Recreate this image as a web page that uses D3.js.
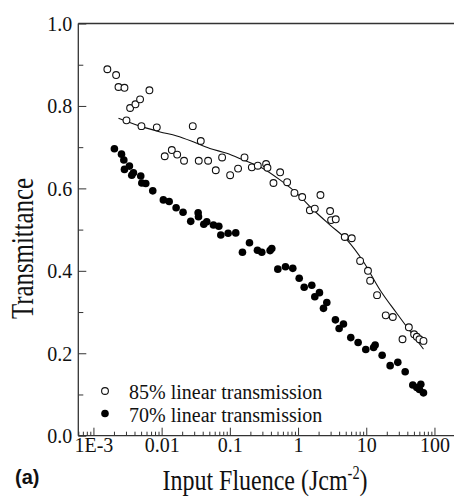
<!DOCTYPE html>
<html>
<head>
<meta charset="utf-8">
<script src="https://cdn.jsdelivr.net/npm/d3@7"></script>
<style>
  body { margin: 0; background: #fff; }
  svg { display: block; }
  text { font-family: "Liberation Serif", "Times New Roman", serif; fill: #111; }
</style>
</head>
<body>
<div id="chart"></div>
<script>
// données
const fluence85 = [0.0016, 0.00215, 0.00233, 0.00285, 0.00345, 0.00413, 0.00483, 0.00305, 0.00506, 0.00662,
  0.00849, 0.0111, 0.0141, 0.0169, 0.0213, 0.0286, 0.035, 0.0375, 0.048, 0.0622,
  0.077, 0.101, 0.132, 0.164, 0.21, 0.257, 0.34, 0.356, 0.436, 0.546,
  0.692, 0.886, 1.15, 1.49, 1.76, 2.13, 2.95, 3.05, 3.57, 4.84,
  6.13, 8.13, 10.6, 11.4, 14.4, 19.3, 24.5, 34.0, 42.1, 50.3,
  55.1, 60.3, 69.0];
const trans85 = [0.889, 0.875, 0.846, 0.844, 0.795, 0.804, 0.816, 0.765, 0.751, 0.838,
  0.748, 0.678, 0.693, 0.682, 0.667, 0.751, 0.667, 0.715, 0.667, 0.644,
  0.675, 0.632, 0.648, 0.675, 0.651, 0.655, 0.659, 0.65, 0.613, 0.639,
  0.615, 0.589, 0.579, 0.547, 0.551, 0.584, 0.545, 0.523, 0.525, 0.482,
  0.479, 0.424, 0.400, 0.376, 0.341, 0.292, 0.288, 0.234, 0.263, 0.246,
  0.240, 0.234, 0.230];

const fitX = [0.00233, 0.0048, 0.0095, 0.0167, 0.029, 0.051, 0.09, 0.158, 0.28, 0.55,
  0.96, 1.7, 2.95, 5.2, 9.1, 16, 28, 69];
const fitY = [0.770, 0.751, 0.737, 0.727, 0.713, 0.697, 0.685, 0.669, 0.652, 0.620,
  0.588, 0.547, 0.511, 0.475, 0.422, 0.353, 0.297, 0.210];

const fluence70 = [0.00203, 0.00258, 0.00279, 0.00285, 0.00337, 0.00365, 0.00386, 0.00494, 0.00512, 0.00585,
  0.00741, 0.0106, 0.0129, 0.0163, 0.0206, 0.0267, 0.0343, 0.0347, 0.0415, 0.0459,
  0.0575, 0.0689, 0.0737, 0.0944, 0.122, 0.153, 0.194, 0.254, 0.294, 0.389,
  0.412, 0.505, 0.654, 0.837, 1.04, 1.23, 1.59, 1.76, 2.06, 2.36,
  2.64, 3.53, 4.0, 4.63, 5.93, 7.6, 9.84, 12.8, 13.5, 17.1,
  22.4, 29.0, 37.2, 48.1, 55.1, 60.3, 63.1, 69.0];
const trans70 = [0.696, 0.683, 0.669, 0.646, 0.654, 0.632, 0.638, 0.630, 0.613, 0.612,
  0.594, 0.572, 0.568, 0.553, 0.542, 0.520, 0.541, 0.531, 0.513, 0.519,
  0.511, 0.508, 0.487, 0.491, 0.492, 0.445, 0.468, 0.450, 0.445, 0.449,
  0.454, 0.404, 0.410, 0.406, 0.382, 0.360, 0.365, 0.337, 0.347, 0.309,
  0.323, 0.281, 0.260, 0.271, 0.238, 0.226, 0.209, 0.214, 0.220, 0.195,
  0.170, 0.178, 0.155, 0.123, 0.117, 0.112, 0.125, 0.104];

const xMajor = [0.001, 0.01, 0.1, 1, 10, 100];
const xLabels = ["1E-3", "0.01", "0.1", "1", "10", "100"];
const yMajor = [0, 0.2, 0.4, 0.6, 0.8, 1.0];
const yMinor = [0.1, 0.3, 0.5, 0.7, 0.9];
const legendLabels = ["85% linear transmission", "70% linear transmission"];

// dimensions
const W = 454, H = 498;
const plot = { left: 78.3, right: 455, top: 23.5, bottom: 435.7 };

const svg = d3.select("#chart").append("svg")
  .attr("width", W).attr("height", H);

const x = d3.scaleLog().domain([6e-4, 200]).range([plot.left, plot.right]);
const y = d3.scaleLinear().domain([0, 1]).range([plot.bottom, plot.top]);

// graduations mineures en x : 2..9 par décade
const xMinor = [];
[1e-4, 1e-3, 0.01, 0.1, 1, 10, 100].forEach(d => {
  for (let k = 2; k <= 9; k++) {
    const v = d * k;
    if (v >= 6e-4 && v <= 200) xMinor.push(v);
  }
});

const axisColor = "#333";
const serif = '"Liberation Serif", "Times New Roman", serif';

// cadre haut
svg.append("line")
  .attr("x1", plot.left).attr("x2", W).attr("y1", plot.top).attr("y2", plot.top)
  .attr("stroke", axisColor).attr("stroke-width", 1.3);

// axe X
const gx = svg.append("g").attr("transform", `translate(0,${plot.bottom})`);
gx.append("g")
  .call(d3.axisBottom(x).tickValues(xMinor).tickSize(-4).tickSizeOuter(0).tickFormat(""))
  .call(g => g.select(".domain").remove());
gx.append("g")
  .call(d3.axisBottom(x).tickValues(xMajor).tickSize(-8).tickSizeOuter(0).tickPadding(2)
    .tickFormat((d, i) => xLabels[i]))
  .call(g => g.select(".domain").remove());
gx.append("line")
  .attr("x1", plot.left).attr("x2", W)
  .attr("stroke", axisColor).attr("stroke-width", 1.3);

// axe Y
const gy = svg.append("g").attr("transform", `translate(${plot.left},0)`);
gy.append("g")
  .call(d3.axisLeft(y).tickValues(yMinor).tickSize(-5).tickSizeOuter(0).tickFormat(""))
  .call(g => g.select(".domain").remove());
gy.append("g")
  .call(d3.axisLeft(y).tickValues(yMajor).tickSize(-8).tickSizeOuter(0).tickPadding(6)
    .tickFormat(d3.format(".1f")))
  .call(g => g.select(".domain").remove());
gy.append("line")
  .attr("y1", plot.top).attr("y2", plot.bottom)
  .attr("stroke", axisColor).attr("stroke-width", 1.3);

svg.selectAll("g").attr("font-family", serif);
svg.selectAll(".tick line").attr("stroke", axisColor).attr("stroke-width", 1);
svg.selectAll(".tick text")
  .style("font-family", serif)
  .style("font-size", "20px")
  .attr("fill", "#111");
gy.selectAll(".tick text").attr("dy", "0.34em");

// courbe ajustée
const fit = fitX.map((v, i) => [v, fitY[i]]);
svg.append("path")
  .datum(fit)
  .attr("fill", "none")
  .attr("stroke", "#111")
  .attr("stroke-width", 1.1)
  .attr("d", d3.line().x(d => x(d[0])).y(d => y(d[1])).curve(d3.curveMonotoneX));

// points 85 % (cercles vides)
svg.append("g").selectAll("circle")
  .data(fluence85.map((v, i) => [v, trans85[i]]))
  .join("circle")
  .attr("cx", d => x(d[0])).attr("cy", d => y(d[1]))
  .attr("r", 3.4)
  .attr("fill", "#fff").attr("stroke", "#111").attr("stroke-width", 1.1);

// points 70 % (cercles pleins)
svg.append("g").selectAll("circle")
  .data(fluence70.map((v, i) => [v, trans70[i]]))
  .join("circle")
  .attr("cx", d => x(d[0])).attr("cy", d => y(d[1]))
  .attr("r", 3.8)
  .attr("fill", "#000");

// légende
const leg = svg.append("g");
leg.append("circle").attr("cx", 105).attr("cy", 391).attr("r", 3.4)
  .attr("fill", "#fff").attr("stroke", "#111").attr("stroke-width", 1.1);
leg.append("circle").attr("cx", 105).attr("cy", 413.5).attr("r", 3.8).attr("fill", "#000");
leg.selectAll("text")
  .data(legendLabels)
  .join("text")
  .attr("x", 129).attr("y", (d, i) => i === 0 ? 398.5 : 421.5)
  .style("font-family", serif)
  .style("font-size", "20px")
  .text(d => d);

// titres des axes (police étroite)
const xt = svg.append("g").attr("transform", "translate(265,490) scale(0.8,1)");
const xtext = xt.append("text").attr("text-anchor", "middle")
  .style("font-family", serif).style("font-size", "30px");
xtext.append("tspan").text("Input Fluence (Jcm");
xtext.append("tspan").attr("dy", -11).style("font-size", "18px").text("-2");
xtext.append("tspan").attr("dy", 11).text(")");

svg.append("g").attr("transform", "translate(33,248.5) rotate(-90) scale(0.8,1)")
  .append("text").attr("text-anchor", "middle")
  .style("font-family", serif).style("font-size", "31px")
  .text("Transmittance");

svg.append("text")
  .attr("x", 15).attr("y", 484)
  .style("font-family", '"Liberation Sans", Arial, sans-serif')
  .style("font-weight", "bold")
  .style("font-size", "20px")
  .text("(a)");
</script>
</body>
</html>
